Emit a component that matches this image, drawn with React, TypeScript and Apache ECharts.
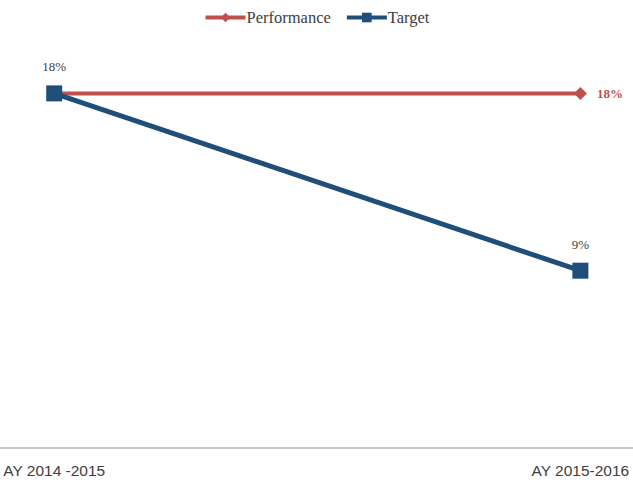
import React, { useEffect, useRef } from "react";
import * as echarts from "echarts";

const categories = ["AY 2014 -2015", "AY 2015-2016"];
const performance = [18, 18];
const target = [18, 9];

const SERIF = "'Liberation Serif', 'DejaVu Serif', serif";
const SANS = "'Liberation Sans', 'Open Sans', sans-serif";

export default function App() {
  const ref = useRef<HTMLDivElement>(null);

  useEffect(() => {
    if (!ref.current) return;
    const chart = echarts.init(ref.current, null, { renderer: "svg" });
    const idx = categories.map((_, i) => i);

    chart.setOption({
      animation: false,
      backgroundColor: "#ffffff",
      legend: {
        top: 4,
        left: "center",
        itemWidth: 40,
        itemHeight: 12,
        itemGap: 14,
        lineStyle: { width: 4 },
        textStyle: { fontFamily: SERIF, fontSize: 16.5, color: "#404040", padding: [0, 0, 0, -4] },
        data: ["Performance", "Target"],
      },
      grid: { left: 0, right: 0, top: 54, bottom: 32 },
      xAxis: {
        type: "value",
        min: -0.103,
        max: 1.1,
        splitLine: { show: false },
        axisTick: { show: false },
        axisLine: { show: true, onZero: false, lineStyle: { color: "#c8c8c8", width: 2 } },
        axisLabel: {
          customValues: idx,
          formatter: (v: number) => categories[Math.round(v)] ?? "",
          fontFamily: SANS,
          fontSize: 15.5,
          color: "#404040",
          margin: 14,
        },
      },
      yAxis: {
        type: "value",
        min: 0,
        max: 20,
        show: false,
        splitLine: { show: false },
      },
      series: [
        {
          name: "Performance",
          type: "line",
          data: idx.map((i) => ({
            value: [i, performance[i]],
            label: {
              show: i === idx.length - 1,
              position: "right",
              distance: 10,
              formatter: (p: any) => p.value[1] + "%",
              fontFamily: SERIF,
              fontWeight: "bold",
              fontSize: 13,
              color: "#c0504d",
            },
          })),
          symbol: "diamond",
          symbolSize: 13,
          color: "#c0504d",
          lineStyle: { color: "#c0504d", width: 4 },
          itemStyle: { color: "#c0504d" },
        },
        {
          name: "Target",
          type: "line",
          data: idx.map((i) => [i, target[i]]),
          symbol: "rect",
          symbolSize: 16,
          color: "#1f4e79",
          lineStyle: { color: "#1f4e79", width: 5 },
          itemStyle: { color: "#1f4e79" },
          label: {
            show: true,
            position: "top",
            distance: 12,
            formatter: (p: any) => p.value[1] + "%",
            fontFamily: SERIF,
            fontSize: 13,
            color: "#404040",
          },
        },
      ],
    });

    return () => chart.dispose();
  }, []);

  return <div ref={ref} style={{ width: 633, height: 480, position: "absolute", left: 0, top: 0 }} />;
}
